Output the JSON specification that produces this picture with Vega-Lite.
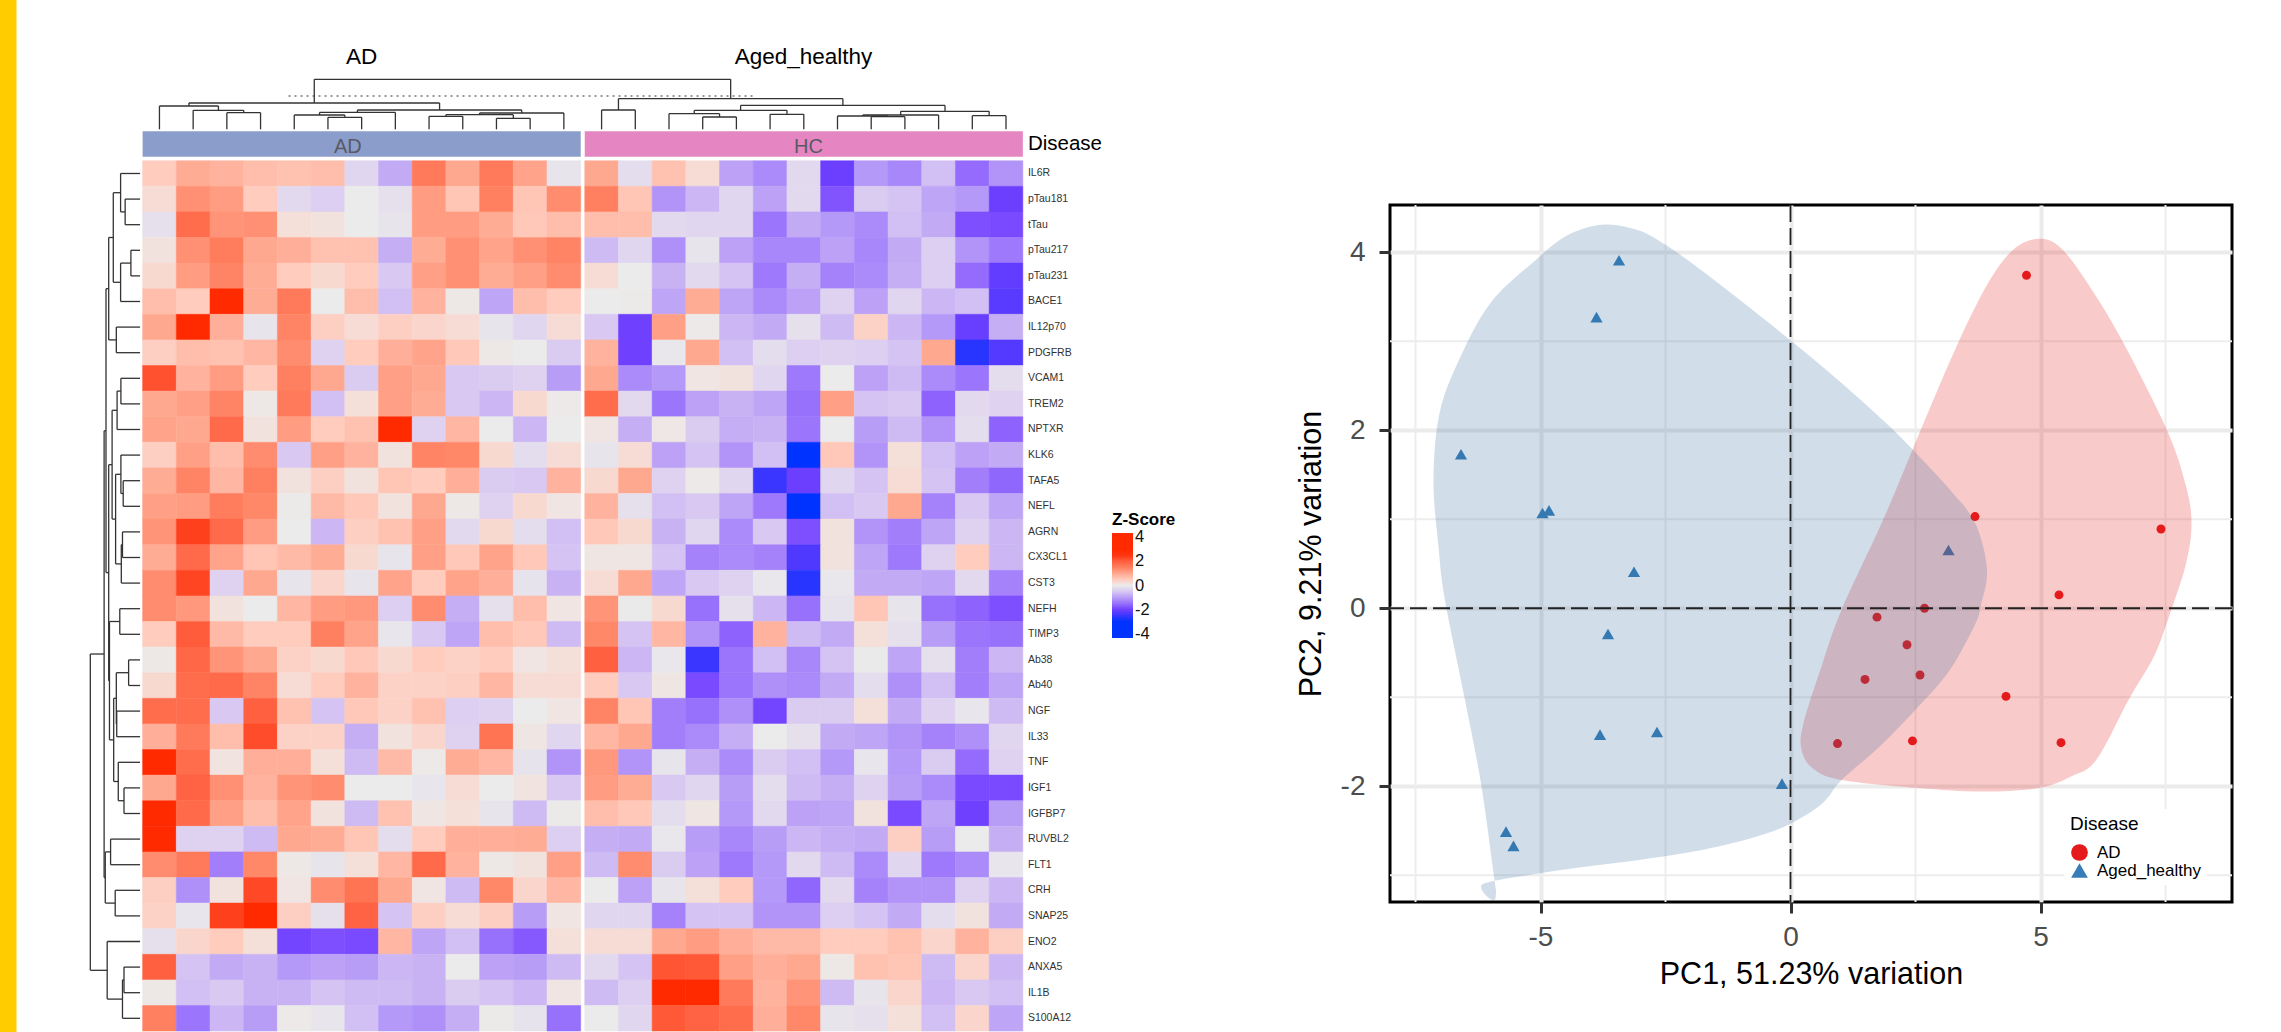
{"$schema":"https://vega.github.io/schema/vega-lite/v6.json","padding":0,"autosize":{"type":"pad"},"background":"white","bounds":"flush","spacing":90,
"config":{"font":"Liberation Sans","view":{"stroke":null}},
"datasets":{
"cells":[
{"row":0,"col":0,"z":0.5},{"row":0,"col":1,"z":0.95},{"row":0,"col":2,"z":0.85},{"row":0,"col":3,"z":0.7},{"row":0,"col":4,"z":0.65},{"row":0,"col":5,"z":0.7},{"row":0,"col":6,"z":-0.3},{"row":0,"col":7,"z":-0.85},{"row":0,"col":8,"z":1.6},{"row":0,"col":9,"z":1},{"row":0,"col":10,"z":1.6},{"row":0,"col":11,"z":1.05},{"row":0,"col":12,"z":-0.1},{"row":0,"col":13,"z":1},{"row":0,"col":14,"z":-0.2},{"row":0,"col":15,"z":0.65},{"row":0,"col":16,"z":0.25},{"row":0,"col":17,"z":-0.95},{"row":0,"col":18,"z":-1.2},{"row":0,"col":19,"z":-0.25},{"row":0,"col":20,"z":-2.05},{"row":0,"col":21,"z":-1.05},{"row":0,"col":22,"z":-1.25},{"row":0,"col":23,"z":-0.6},{"row":0,"col":24,"z":-1.55},{"row":0,"col":25,"z":-1.1},
{"row":1,"col":0,"z":0.25},{"row":1,"col":1,"z":1.3},{"row":1,"col":2,"z":1.15},{"row":1,"col":3,"z":0.5},{"row":1,"col":4,"z":-0.25},{"row":1,"col":5,"z":-0.4},{"row":1,"col":6,"z":0},{"row":1,"col":7,"z":-0.15},{"row":1,"col":8,"z":1.15},{"row":1,"col":9,"z":0.6},{"row":1,"col":10,"z":1.5},{"row":1,"col":11,"z":0.6},{"row":1,"col":12,"z":1.35},{"row":1,"col":13,"z":1.5},{"row":1,"col":14,"z":0.6},{"row":1,"col":15,"z":-1.1},{"row":1,"col":16,"z":-0.7},{"row":1,"col":17,"z":-0.3},{"row":1,"col":18,"z":-0.95},{"row":1,"col":19,"z":-0.25},{"row":1,"col":20,"z":-1.8},{"row":1,"col":21,"z":-0.45},{"row":1,"col":22,"z":-0.55},{"row":1,"col":23,"z":-0.9},{"row":1,"col":24,"z":-1.05},{"row":1,"col":25,"z":-2.05},
{"row":2,"col":0,"z":-0.15},{"row":2,"col":1,"z":1.8},{"row":2,"col":2,"z":1.25},{"row":2,"col":3,"z":1.3},{"row":2,"col":4,"z":0.2},{"row":2,"col":5,"z":0.15},{"row":2,"col":6,"z":0},{"row":2,"col":7,"z":-0.1},{"row":2,"col":8,"z":1.15},{"row":2,"col":9,"z":1.15},{"row":2,"col":10,"z":0.95},{"row":2,"col":11,"z":0.55},{"row":2,"col":12,"z":0.7},{"row":2,"col":13,"z":0.7},{"row":2,"col":14,"z":0.7},{"row":2,"col":15,"z":-0.25},{"row":2,"col":16,"z":-0.3},{"row":2,"col":17,"z":-0.3},{"row":2,"col":18,"z":-1.45},{"row":2,"col":19,"z":-0.85},{"row":2,"col":20,"z":-1.05},{"row":2,"col":21,"z":-1.2},{"row":2,"col":22,"z":-0.6},{"row":2,"col":23,"z":-0.85},{"row":2,"col":24,"z":-1.85},{"row":2,"col":25,"z":-1.9},
{"row":3,"col":0,"z":0.15},{"row":3,"col":1,"z":1.3},{"row":3,"col":2,"z":1.55},{"row":3,"col":3,"z":1},{"row":3,"col":4,"z":0.9},{"row":3,"col":5,"z":0.65},{"row":3,"col":6,"z":0.65},{"row":3,"col":7,"z":-0.8},{"row":3,"col":8,"z":0.95},{"row":3,"col":9,"z":1.3},{"row":3,"col":10,"z":1.05},{"row":3,"col":11,"z":1.3},{"row":3,"col":12,"z":1.45},{"row":3,"col":13,"z":-0.65},{"row":3,"col":14,"z":-0.3},{"row":3,"col":15,"z":-1.15},{"row":3,"col":16,"z":-0.1},{"row":3,"col":17,"z":-0.95},{"row":3,"col":18,"z":-1.25},{"row":3,"col":19,"z":-1.25},{"row":3,"col":20,"z":-0.95},{"row":3,"col":21,"z":-1.25},{"row":3,"col":22,"z":-0.85},{"row":3,"col":23,"z":-0.4},{"row":3,"col":24,"z":-1.1},{"row":3,"col":25,"z":-1.4},
{"row":4,"col":0,"z":0.3},{"row":4,"col":1,"z":1.15},{"row":4,"col":2,"z":1.45},{"row":4,"col":3,"z":0.95},{"row":4,"col":4,"z":0.5},{"row":4,"col":5,"z":0.3},{"row":4,"col":6,"z":0.5},{"row":4,"col":7,"z":-0.5},{"row":4,"col":8,"z":1.1},{"row":4,"col":9,"z":1.3},{"row":4,"col":10,"z":0.95},{"row":4,"col":11,"z":1.1},{"row":4,"col":12,"z":1.35},{"row":4,"col":13,"z":0.25},{"row":4,"col":14,"z":0},{"row":4,"col":15,"z":-0.75},{"row":4,"col":16,"z":-0.25},{"row":4,"col":17,"z":-0.55},{"row":4,"col":18,"z":-1.4},{"row":4,"col":19,"z":-0.8},{"row":4,"col":20,"z":-1.3},{"row":4,"col":21,"z":-1.2},{"row":4,"col":22,"z":-0.8},{"row":4,"col":23,"z":-0.4},{"row":4,"col":24,"z":-1.55},{"row":4,"col":25,"z":-2.15},
{"row":5,"col":0,"z":0.7},{"row":5,"col":1,"z":0.5},{"row":5,"col":2,"z":2.6},{"row":5,"col":3,"z":0.95},{"row":5,"col":4,"z":1.6},{"row":5,"col":5,"z":0},{"row":5,"col":6,"z":0.7},{"row":5,"col":7,"z":-0.6},{"row":5,"col":8,"z":0.85},{"row":5,"col":9,"z":0.05},{"row":5,"col":10,"z":-0.9},{"row":5,"col":11,"z":0.7},{"row":5,"col":12,"z":0.5},{"row":5,"col":13,"z":0},{"row":5,"col":14,"z":0.02},{"row":5,"col":15,"z":-0.9},{"row":5,"col":16,"z":0.95},{"row":5,"col":17,"z":-0.9},{"row":5,"col":18,"z":-1.2},{"row":5,"col":19,"z":-0.95},{"row":5,"col":20,"z":-0.35},{"row":5,"col":21,"z":-0.95},{"row":5,"col":22,"z":-0.3},{"row":5,"col":23,"z":-0.7},{"row":5,"col":24,"z":-0.6},{"row":5,"col":25,"z":-2.25},
{"row":6,"col":0,"z":1},{"row":6,"col":1,"z":2.6},{"row":6,"col":2,"z":0.9},{"row":6,"col":3,"z":-0.1},{"row":6,"col":4,"z":1.45},{"row":6,"col":5,"z":0.45},{"row":6,"col":6,"z":0.25},{"row":6,"col":7,"z":0.45},{"row":6,"col":8,"z":0.35},{"row":6,"col":9,"z":0.25},{"row":6,"col":10,"z":-0.1},{"row":6,"col":11,"z":-0.3},{"row":6,"col":12,"z":0.25},{"row":6,"col":13,"z":-0.5},{"row":6,"col":14,"z":-2},{"row":6,"col":15,"z":1.1},{"row":6,"col":16,"z":0.03},{"row":6,"col":17,"z":-0.7},{"row":6,"col":18,"z":-0.85},{"row":6,"col":19,"z":-0.15},{"row":6,"col":20,"z":-0.65},{"row":6,"col":21,"z":0.4},{"row":6,"col":22,"z":-0.7},{"row":6,"col":23,"z":-1.05},{"row":6,"col":24,"z":-2.1},{"row":6,"col":25,"z":-0.8},
{"row":7,"col":0,"z":0.45},{"row":7,"col":1,"z":0.7},{"row":7,"col":2,"z":0.65},{"row":7,"col":3,"z":0.8},{"row":7,"col":4,"z":1.35},{"row":7,"col":5,"z":-0.35},{"row":7,"col":6,"z":0.5},{"row":7,"col":7,"z":0.9},{"row":7,"col":8,"z":1.05},{"row":7,"col":9,"z":0.55},{"row":7,"col":10,"z":0.05},{"row":7,"col":11,"z":0},{"row":7,"col":12,"z":-0.45},{"row":7,"col":13,"z":0.85},{"row":7,"col":14,"z":-2},{"row":7,"col":15,"z":-0.05},{"row":7,"col":16,"z":1},{"row":7,"col":17,"z":-0.6},{"row":7,"col":18,"z":-0.2},{"row":7,"col":19,"z":-0.4},{"row":7,"col":20,"z":-0.35},{"row":7,"col":21,"z":-0.4},{"row":7,"col":22,"z":-0.55},{"row":7,"col":23,"z":1},{"row":7,"col":24,"z":-2.6},{"row":7,"col":25,"z":-2.3},
{"row":8,"col":0,"z":2.2},{"row":8,"col":1,"z":0.85},{"row":8,"col":2,"z":1.15},{"row":8,"col":3,"z":0.5},{"row":8,"col":4,"z":1.5},{"row":8,"col":5,"z":1},{"row":8,"col":6,"z":-0.45},{"row":8,"col":7,"z":1.1},{"row":8,"col":8,"z":1},{"row":8,"col":9,"z":-0.5},{"row":8,"col":10,"z":-0.45},{"row":8,"col":11,"z":-0.35},{"row":8,"col":12,"z":-1},{"row":8,"col":13,"z":1},{"row":8,"col":14,"z":-1.2},{"row":8,"col":15,"z":-1.05},{"row":8,"col":16,"z":0.1},{"row":8,"col":17,"z":0.15},{"row":8,"col":18,"z":-0.3},{"row":8,"col":19,"z":-1.4},{"row":8,"col":20,"z":0},{"row":8,"col":21,"z":-0.95},{"row":8,"col":22,"z":-0.65},{"row":8,"col":23,"z":-1.2},{"row":8,"col":24,"z":-1.45},{"row":8,"col":25,"z":-0.2},
{"row":9,"col":0,"z":1},{"row":9,"col":1,"z":1.1},{"row":9,"col":2,"z":1.45},{"row":9,"col":3,"z":0.05},{"row":9,"col":4,"z":1.6},{"row":9,"col":5,"z":-0.6},{"row":9,"col":6,"z":0.2},{"row":9,"col":7,"z":1.1},{"row":9,"col":8,"z":0.95},{"row":9,"col":9,"z":-0.5},{"row":9,"col":10,"z":-0.7},{"row":9,"col":11,"z":0.3},{"row":9,"col":12,"z":0.03},{"row":9,"col":13,"z":1.8},{"row":9,"col":14,"z":-0.25},{"row":9,"col":15,"z":-1.45},{"row":9,"col":16,"z":-0.95},{"row":9,"col":17,"z":-0.75},{"row":9,"col":18,"z":-0.9},{"row":9,"col":19,"z":-1.5},{"row":9,"col":20,"z":1.1},{"row":9,"col":21,"z":-0.55},{"row":9,"col":22,"z":-0.5},{"row":9,"col":23,"z":-1.65},{"row":9,"col":24,"z":-0.25},{"row":9,"col":25,"z":-0.35},
{"row":10,"col":0,"z":1.05},{"row":10,"col":1,"z":1},{"row":10,"col":2,"z":1.85},{"row":10,"col":3,"z":0.15},{"row":10,"col":4,"z":1.15},{"row":10,"col":5,"z":0.5},{"row":10,"col":6,"z":0.65},{"row":10,"col":7,"z":2.6},{"row":10,"col":8,"z":-0.35},{"row":10,"col":9,"z":0.8},{"row":10,"col":10,"z":0},{"row":10,"col":11,"z":-0.7},{"row":10,"col":12,"z":0},{"row":10,"col":13,"z":0.1},{"row":10,"col":14,"z":-0.8},{"row":10,"col":15,"z":0.07},{"row":10,"col":16,"z":-0.45},{"row":10,"col":17,"z":-0.8},{"row":10,"col":18,"z":-0.75},{"row":10,"col":19,"z":-1.45},{"row":10,"col":20,"z":0},{"row":10,"col":21,"z":-1},{"row":10,"col":22,"z":-0.65},{"row":10,"col":23,"z":-1.1},{"row":10,"col":24,"z":-0.2},{"row":10,"col":25,"z":-1.65},
{"row":11,"col":0,"z":0.45},{"row":11,"col":1,"z":1.1},{"row":11,"col":2,"z":0.7},{"row":11,"col":3,"z":1.35},{"row":11,"col":4,"z":-0.5},{"row":11,"col":5,"z":1.1},{"row":11,"col":6,"z":0.85},{"row":11,"col":7,"z":0.15},{"row":11,"col":8,"z":1.45},{"row":11,"col":9,"z":1.4},{"row":11,"col":10,"z":0.3},{"row":11,"col":11,"z":-0.2},{"row":11,"col":12,"z":0.25},{"row":11,"col":13,"z":-0.1},{"row":11,"col":14,"z":0.25},{"row":11,"col":15,"z":-0.95},{"row":11,"col":16,"z":-0.55},{"row":11,"col":17,"z":-1.1},{"row":11,"col":18,"z":-0.6},{"row":11,"col":19,"z":-2.7},{"row":11,"col":20,"z":0.55},{"row":11,"col":21,"z":-1.1},{"row":11,"col":22,"z":0.2},{"row":11,"col":23,"z":-0.6},{"row":11,"col":24,"z":-0.95},{"row":11,"col":25,"z":-0.85},
{"row":12,"col":0,"z":0.95},{"row":12,"col":1,"z":1.45},{"row":12,"col":2,"z":0.8},{"row":12,"col":3,"z":1.5},{"row":12,"col":4,"z":0.15},{"row":12,"col":5,"z":0.45},{"row":12,"col":6,"z":0.15},{"row":12,"col":7,"z":0.6},{"row":12,"col":8,"z":0.5},{"row":12,"col":9,"z":0.9},{"row":12,"col":10,"z":-0.45},{"row":12,"col":11,"z":-0.5},{"row":12,"col":12,"z":0.85},{"row":12,"col":13,"z":0.3},{"row":12,"col":14,"z":1},{"row":12,"col":15,"z":-0.35},{"row":12,"col":16,"z":0.03},{"row":12,"col":17,"z":-0.3},{"row":12,"col":18,"z":-2.5},{"row":12,"col":19,"z":-2.05},{"row":12,"col":20,"z":-0.3},{"row":12,"col":21,"z":-0.55},{"row":12,"col":22,"z":0.25},{"row":12,"col":23,"z":-0.55},{"row":12,"col":24,"z":-1.35},{"row":12,"col":25,"z":-1.6},
{"row":13,"col":0,"z":1.1},{"row":13,"col":1,"z":1.15},{"row":13,"col":2,"z":1.55},{"row":13,"col":3,"z":1.4},{"row":13,"col":4,"z":0.02},{"row":13,"col":5,"z":0.75},{"row":13,"col":6,"z":0.55},{"row":13,"col":7,"z":0.15},{"row":13,"col":8,"z":1},{"row":13,"col":9,"z":0.05},{"row":13,"col":10,"z":-0.35},{"row":13,"col":11,"z":0.3},{"row":13,"col":12,"z":0.1},{"row":13,"col":13,"z":0.85},{"row":13,"col":14,"z":-0.15},{"row":13,"col":15,"z":-0.6},{"row":13,"col":16,"z":-0.5},{"row":13,"col":17,"z":-0.9},{"row":13,"col":18,"z":-1.4},{"row":13,"col":19,"z":-2.7},{"row":13,"col":20,"z":-0.6},{"row":13,"col":21,"z":-0.5},{"row":13,"col":22,"z":1},{"row":13,"col":23,"z":-1.3},{"row":13,"col":24,"z":-0.5},{"row":13,"col":25,"z":-0.9},
{"row":14,"col":0,"z":1.25},{"row":14,"col":1,"z":2.4},{"row":14,"col":2,"z":1.85},{"row":14,"col":3,"z":1.15},{"row":14,"col":4,"z":0},{"row":14,"col":5,"z":-0.7},{"row":14,"col":6,"z":0.45},{"row":14,"col":7,"z":0.65},{"row":14,"col":8,"z":1.1},{"row":14,"col":9,"z":-0.25},{"row":14,"col":10,"z":0.3},{"row":14,"col":11,"z":-0.2},{"row":14,"col":12,"z":-0.6},{"row":14,"col":13,"z":0.55},{"row":14,"col":14,"z":0.3},{"row":14,"col":15,"z":-0.75},{"row":14,"col":16,"z":-0.3},{"row":14,"col":17,"z":-1.2},{"row":14,"col":18,"z":-0.5},{"row":14,"col":19,"z":-1.85},{"row":14,"col":20,"z":0.15},{"row":14,"col":21,"z":-1.1},{"row":14,"col":22,"z":-1.35},{"row":14,"col":23,"z":-0.9},{"row":14,"col":24,"z":-0.35},{"row":14,"col":25,"z":-0.7},
{"row":15,"col":0,"z":0.95},{"row":15,"col":1,"z":1.85},{"row":15,"col":2,"z":1.05},{"row":15,"col":3,"z":0.6},{"row":15,"col":4,"z":0.75},{"row":15,"col":5,"z":0.95},{"row":15,"col":6,"z":0.3},{"row":15,"col":7,"z":-0.1},{"row":15,"col":8,"z":1.1},{"row":15,"col":9,"z":0.55},{"row":15,"col":10,"z":1.05},{"row":15,"col":11,"z":0.55},{"row":15,"col":12,"z":-0.55},{"row":15,"col":13,"z":0.08},{"row":15,"col":14,"z":0.08},{"row":15,"col":15,"z":-0.55},{"row":15,"col":16,"z":-1.3},{"row":15,"col":17,"z":-1.2},{"row":15,"col":18,"z":-1.3},{"row":15,"col":19,"z":-2.35},{"row":15,"col":20,"z":0.15},{"row":15,"col":21,"z":-0.9},{"row":15,"col":22,"z":-1.4},{"row":15,"col":23,"z":-0.35},{"row":15,"col":24,"z":0.5},{"row":15,"col":25,"z":-0.7},
{"row":16,"col":0,"z":1.35},{"row":16,"col":1,"z":2.35},{"row":16,"col":2,"z":-0.35},{"row":16,"col":3,"z":1},{"row":16,"col":4,"z":-0.1},{"row":16,"col":5,"z":0.35},{"row":16,"col":6,"z":-0.1},{"row":16,"col":7,"z":1.05},{"row":16,"col":8,"z":0.5},{"row":16,"col":9,"z":1.05},{"row":16,"col":10,"z":0.9},{"row":16,"col":11,"z":-0.12},{"row":16,"col":12,"z":-0.75},{"row":16,"col":13,"z":0.25},{"row":16,"col":14,"z":1},{"row":16,"col":15,"z":-0.9},{"row":16,"col":16,"z":-0.5},{"row":16,"col":17,"z":-0.35},{"row":16,"col":18,"z":-0.05},{"row":16,"col":19,"z":-2.6},{"row":16,"col":20,"z":-0.05},{"row":16,"col":21,"z":-0.85},{"row":16,"col":22,"z":-0.85},{"row":16,"col":23,"z":-0.9},{"row":16,"col":24,"z":-0.25},{"row":16,"col":25,"z":-1.3},
{"row":17,"col":0,"z":1.35},{"row":17,"col":1,"z":1.2},{"row":17,"col":2,"z":0.15},{"row":17,"col":3,"z":0},{"row":17,"col":4,"z":0.8},{"row":17,"col":5,"z":1.15},{"row":17,"col":6,"z":1.2},{"row":17,"col":7,"z":-0.4},{"row":17,"col":8,"z":1.35},{"row":17,"col":9,"z":-0.8},{"row":17,"col":10,"z":-0.15},{"row":17,"col":11,"z":0.7},{"row":17,"col":12,"z":0.1},{"row":17,"col":13,"z":1.25},{"row":17,"col":14,"z":0.01},{"row":17,"col":15,"z":0.3},{"row":17,"col":16,"z":-1.5},{"row":17,"col":17,"z":-0.15},{"row":17,"col":18,"z":-0.7},{"row":17,"col":19,"z":-1.5},{"row":17,"col":20,"z":-0.12},{"row":17,"col":21,"z":0.6},{"row":17,"col":22,"z":-0.1},{"row":17,"col":23,"z":-1.5},{"row":17,"col":24,"z":-1.65},{"row":17,"col":25,"z":-1.85},
{"row":18,"col":0,"z":0.5},{"row":18,"col":1,"z":2.05},{"row":18,"col":2,"z":0.75},{"row":18,"col":3,"z":0.5},{"row":18,"col":4,"z":0.5},{"row":18,"col":5,"z":1.5},{"row":18,"col":6,"z":1.05},{"row":18,"col":7,"z":-0.08},{"row":18,"col":8,"z":-0.5},{"row":18,"col":9,"z":-0.9},{"row":18,"col":10,"z":0.7},{"row":18,"col":11,"z":0.55},{"row":18,"col":12,"z":-0.65},{"row":18,"col":13,"z":1.4},{"row":18,"col":14,"z":-0.55},{"row":18,"col":15,"z":0.8},{"row":18,"col":16,"z":-1.1},{"row":18,"col":17,"z":-1.65},{"row":18,"col":18,"z":0.85},{"row":18,"col":19,"z":-0.65},{"row":18,"col":20,"z":-0.85},{"row":18,"col":21,"z":0.2},{"row":18,"col":22,"z":-0.15},{"row":18,"col":23,"z":-1},{"row":18,"col":24,"z":-1.45},{"row":18,"col":25,"z":-1.5},
{"row":19,"col":0,"z":0.05},{"row":19,"col":1,"z":1.9},{"row":19,"col":2,"z":1.25},{"row":19,"col":3,"z":1},{"row":19,"col":4,"z":0.4},{"row":19,"col":5,"z":0.3},{"row":19,"col":6,"z":0.55},{"row":19,"col":7,"z":0.3},{"row":19,"col":8,"z":0.5},{"row":19,"col":9,"z":0.4},{"row":19,"col":10,"z":0.5},{"row":19,"col":11,"z":0.1},{"row":19,"col":12,"z":0.2},{"row":19,"col":13,"z":2},{"row":19,"col":14,"z":-0.7},{"row":19,"col":15,"z":-0.05},{"row":19,"col":16,"z":-2.5},{"row":19,"col":17,"z":-1.45},{"row":19,"col":18,"z":-0.6},{"row":19,"col":19,"z":-1.25},{"row":19,"col":20,"z":-0.55},{"row":19,"col":21,"z":0.01},{"row":19,"col":22,"z":-0.9},{"row":19,"col":23,"z":-0.15},{"row":19,"col":24,"z":-1.35},{"row":19,"col":25,"z":-0.7},
{"row":20,"col":0,"z":0.3},{"row":20,"col":1,"z":1.8},{"row":20,"col":2,"z":1.85},{"row":20,"col":3,"z":1.45},{"row":20,"col":4,"z":0.25},{"row":20,"col":5,"z":0.5},{"row":20,"col":6,"z":0.85},{"row":20,"col":7,"z":0.4},{"row":20,"col":8,"z":0.4},{"row":20,"col":9,"z":0.45},{"row":20,"col":10,"z":0.8},{"row":20,"col":11,"z":0.25},{"row":20,"col":12,"z":0.25},{"row":20,"col":13,"z":0.5},{"row":20,"col":14,"z":-0.5},{"row":20,"col":15,"z":0.08},{"row":20,"col":16,"z":-1.9},{"row":20,"col":17,"z":-1.45},{"row":20,"col":18,"z":-1.15},{"row":20,"col":19,"z":-1.2},{"row":20,"col":20,"z":-0.85},{"row":20,"col":21,"z":-0.2},{"row":20,"col":22,"z":-1.15},{"row":20,"col":23,"z":-0.6},{"row":20,"col":24,"z":-1.35},{"row":20,"col":25,"z":-0.9},
{"row":21,"col":0,"z":1.8},{"row":21,"col":1,"z":1.8},{"row":21,"col":2,"z":-0.5},{"row":21,"col":3,"z":2},{"row":21,"col":4,"z":0.65},{"row":21,"col":5,"z":-0.55},{"row":21,"col":6,"z":0.55},{"row":21,"col":7,"z":0.4},{"row":21,"col":8,"z":0.65},{"row":21,"col":9,"z":-0.4},{"row":21,"col":10,"z":-0.35},{"row":21,"col":11,"z":0},{"row":21,"col":12,"z":0.1},{"row":21,"col":13,"z":1.45},{"row":21,"col":14,"z":0.6},{"row":21,"col":15,"z":-1.35},{"row":21,"col":16,"z":-1.5},{"row":21,"col":17,"z":-1.15},{"row":21,"col":18,"z":-1.95},{"row":21,"col":19,"z":-0.45},{"row":21,"col":20,"z":-0.45},{"row":21,"col":21,"z":0.2},{"row":21,"col":22,"z":-0.85},{"row":21,"col":23,"z":-0.35},{"row":21,"col":24,"z":-0.08},{"row":21,"col":25,"z":-0.65},
{"row":22,"col":0,"z":0.9},{"row":22,"col":1,"z":1.6},{"row":22,"col":2,"z":0.7},{"row":22,"col":3,"z":2.25},{"row":22,"col":4,"z":0.4},{"row":22,"col":5,"z":0.4},{"row":22,"col":6,"z":-0.8},{"row":22,"col":7,"z":0.15},{"row":22,"col":8,"z":0.35},{"row":22,"col":9,"z":-0.35},{"row":22,"col":10,"z":1.7},{"row":22,"col":11,"z":0.08},{"row":22,"col":12,"z":-0.3},{"row":22,"col":13,"z":0.8},{"row":22,"col":14,"z":1},{"row":22,"col":15,"z":-1.35},{"row":22,"col":16,"z":-1.2},{"row":22,"col":17,"z":-0.8},{"row":22,"col":18,"z":0},{"row":22,"col":19,"z":-0.15},{"row":22,"col":20,"z":-0.85},{"row":22,"col":21,"z":-0.9},{"row":22,"col":22,"z":-1.1},{"row":22,"col":23,"z":-1.3},{"row":22,"col":24,"z":-1.15},{"row":22,"col":25,"z":-0.3},
{"row":23,"col":0,"z":2.6},{"row":23,"col":1,"z":1.8},{"row":23,"col":2,"z":0.12},{"row":23,"col":3,"z":0.9},{"row":23,"col":4,"z":0.9},{"row":23,"col":5,"z":0.2},{"row":23,"col":6,"z":-0.65},{"row":23,"col":7,"z":0.75},{"row":23,"col":8,"z":0.03},{"row":23,"col":9,"z":0.95},{"row":23,"col":10,"z":0.8},{"row":23,"col":11,"z":-0.12},{"row":23,"col":12,"z":-1.1},{"row":23,"col":13,"z":1.2},{"row":23,"col":14,"z":-1.1},{"row":23,"col":15,"z":-0.1},{"row":23,"col":16,"z":-0.8},{"row":23,"col":17,"z":-1.2},{"row":23,"col":18,"z":-0.45},{"row":23,"col":19,"z":-0.6},{"row":23,"col":20,"z":-1.05},{"row":23,"col":21,"z":-0.08},{"row":23,"col":22,"z":-1.05},{"row":23,"col":23,"z":-0.45},{"row":23,"col":24,"z":-1.55},{"row":23,"col":25,"z":-0.35},
{"row":24,"col":0,"z":1},{"row":24,"col":1,"z":1.95},{"row":24,"col":2,"z":1.3},{"row":24,"col":3,"z":0.85},{"row":24,"col":4,"z":1.25},{"row":24,"col":5,"z":1.35},{"row":24,"col":6,"z":0},{"row":24,"col":7,"z":0},{"row":24,"col":8,"z":-0.08},{"row":24,"col":9,"z":0.25},{"row":24,"col":10,"z":0},{"row":24,"col":11,"z":0.12},{"row":24,"col":12,"z":-0.5},{"row":24,"col":13,"z":1.15},{"row":24,"col":14,"z":0.95},{"row":24,"col":15,"z":-0.5},{"row":24,"col":16,"z":-0.3},{"row":24,"col":17,"z":-1},{"row":24,"col":18,"z":-0.2},{"row":24,"col":19,"z":-0.65},{"row":24,"col":20,"z":-0.8},{"row":24,"col":21,"z":-0.35},{"row":24,"col":22,"z":-1},{"row":24,"col":23,"z":-1.2},{"row":24,"col":24,"z":-1.9},{"row":24,"col":25,"z":-1.9},
{"row":25,"col":0,"z":2.6},{"row":25,"col":1,"z":1.85},{"row":25,"col":2,"z":1.1},{"row":25,"col":3,"z":0.7},{"row":25,"col":4,"z":1.05},{"row":25,"col":5,"z":0.15},{"row":25,"col":6,"z":-0.65},{"row":25,"col":7,"z":0.65},{"row":25,"col":8,"z":0.08},{"row":25,"col":9,"z":0.2},{"row":25,"col":10,"z":-0.1},{"row":25,"col":11,"z":-0.65},{"row":25,"col":12,"z":0.02},{"row":25,"col":13,"z":0.7},{"row":25,"col":14,"z":0.55},{"row":25,"col":15,"z":-0.2},{"row":25,"col":16,"z":0.08},{"row":25,"col":17,"z":-1.05},{"row":25,"col":18,"z":-0.25},{"row":25,"col":19,"z":-0.95},{"row":25,"col":20,"z":-0.9},{"row":25,"col":21,"z":0.15},{"row":25,"col":22,"z":-1.9},{"row":25,"col":23,"z":-0.9},{"row":25,"col":24,"z":-2},{"row":25,"col":25,"z":-1},
{"row":26,"col":0,"z":2.6},{"row":26,"col":1,"z":-0.35},{"row":26,"col":2,"z":-0.35},{"row":26,"col":3,"z":-0.65},{"row":26,"col":4,"z":1},{"row":26,"col":5,"z":0.95},{"row":26,"col":6,"z":0.6},{"row":26,"col":7,"z":-0.2},{"row":26,"col":8,"z":0.5},{"row":26,"col":9,"z":0.9},{"row":26,"col":10,"z":0.9},{"row":26,"col":11,"z":0.95},{"row":26,"col":12,"z":-0.4},{"row":26,"col":13,"z":-0.8},{"row":26,"col":14,"z":-0.85},{"row":26,"col":15,"z":-0.05},{"row":26,"col":16,"z":-1},{"row":26,"col":17,"z":-1.25},{"row":26,"col":18,"z":-1},{"row":26,"col":19,"z":-0.7},{"row":26,"col":20,"z":-0.8},{"row":26,"col":21,"z":-0.85},{"row":26,"col":22,"z":0.45},{"row":26,"col":23,"z":-1},{"row":26,"col":24,"z":0},{"row":26,"col":25,"z":-0.8},
{"row":27,"col":0,"z":1.35},{"row":27,"col":1,"z":1.6},{"row":27,"col":2,"z":-1.35},{"row":27,"col":3,"z":1.4},{"row":27,"col":4,"z":0.05},{"row":27,"col":5,"z":-0.1},{"row":27,"col":6,"z":0.2},{"row":27,"col":7,"z":0.8},{"row":27,"col":8,"z":1.85},{"row":27,"col":9,"z":0.85},{"row":27,"col":10,"z":0.05},{"row":27,"col":11,"z":0.15},{"row":27,"col":12,"z":1.1},{"row":27,"col":13,"z":-0.65},{"row":27,"col":14,"z":1.35},{"row":27,"col":15,"z":-0.45},{"row":27,"col":16,"z":-0.95},{"row":27,"col":17,"z":-1.4},{"row":27,"col":18,"z":-1.05},{"row":27,"col":19,"z":-0.25},{"row":27,"col":20,"z":-0.65},{"row":27,"col":21,"z":-1.2},{"row":27,"col":22,"z":-0.3},{"row":27,"col":23,"z":-1.4},{"row":27,"col":24,"z":-1.2},{"row":27,"col":25,"z":-0.08},
{"row":28,"col":0,"z":0.45},{"row":28,"col":1,"z":-1.15},{"row":28,"col":2,"z":0.15},{"row":28,"col":3,"z":2.3},{"row":28,"col":4,"z":0.1},{"row":28,"col":5,"z":1.35},{"row":28,"col":6,"z":1.7},{"row":28,"col":7,"z":1},{"row":28,"col":8,"z":0.1},{"row":28,"col":9,"z":-0.65},{"row":28,"col":10,"z":1.4},{"row":28,"col":11,"z":0.35},{"row":28,"col":12,"z":0.8},{"row":28,"col":13,"z":0},{"row":28,"col":14,"z":-0.95},{"row":28,"col":15,"z":-0.1},{"row":28,"col":16,"z":0.2},{"row":28,"col":17,"z":0.5},{"row":28,"col":18,"z":-1.05},{"row":28,"col":19,"z":-1.6},{"row":28,"col":20,"z":-0.25},{"row":28,"col":21,"z":-1.3},{"row":28,"col":22,"z":-1.1},{"row":28,"col":23,"z":-1.1},{"row":28,"col":24,"z":-0.35},{"row":28,"col":25,"z":-0.7},
{"row":29,"col":0,"z":0.4},{"row":29,"col":1,"z":-0.08},{"row":29,"col":2,"z":2.4},{"row":29,"col":3,"z":2.6},{"row":29,"col":4,"z":0.45},{"row":29,"col":5,"z":-0.15},{"row":29,"col":6,"z":1.95},{"row":29,"col":7,"z":-0.55},{"row":29,"col":8,"z":0.45},{"row":29,"col":9,"z":0.25},{"row":29,"col":10,"z":0.45},{"row":29,"col":11,"z":-1},{"row":29,"col":12,"z":0.1},{"row":29,"col":13,"z":-0.3},{"row":29,"col":14,"z":-0.3},{"row":29,"col":15,"z":-1.3},{"row":29,"col":16,"z":-0.55},{"row":29,"col":17,"z":-0.55},{"row":29,"col":18,"z":-1.1},{"row":29,"col":19,"z":-1.1},{"row":29,"col":20,"z":-0.4},{"row":29,"col":21,"z":-0.55},{"row":29,"col":22,"z":-0.85},{"row":29,"col":23,"z":-0.2},{"row":29,"col":24,"z":0.15},{"row":29,"col":25,"z":-0.85},
{"row":30,"col":0,"z":-0.15},{"row":30,"col":1,"z":0.35},{"row":30,"col":2,"z":0.5},{"row":30,"col":3,"z":0.2},{"row":30,"col":4,"z":-1.95},{"row":30,"col":5,"z":-1.85},{"row":30,"col":6,"z":-1.9},{"row":30,"col":7,"z":0.8},{"row":30,"col":8,"z":-0.9},{"row":30,"col":9,"z":-0.6},{"row":30,"col":10,"z":-1.5},{"row":30,"col":11,"z":-1.75},{"row":30,"col":12,"z":0.2},{"row":30,"col":13,"z":0.25},{"row":30,"col":14,"z":0.25},{"row":30,"col":15,"z":1},{"row":30,"col":16,"z":1.15},{"row":30,"col":17,"z":0.9},{"row":30,"col":18,"z":0.75},{"row":30,"col":19,"z":0.75},{"row":30,"col":20,"z":0.5},{"row":30,"col":21,"z":0.5},{"row":30,"col":22,"z":0.65},{"row":30,"col":23,"z":0.35},{"row":30,"col":24,"z":0.85},{"row":30,"col":25,"z":0.45},
{"row":31,"col":0,"z":2},{"row":31,"col":1,"z":-0.55},{"row":31,"col":2,"z":-0.85},{"row":31,"col":3,"z":-0.75},{"row":31,"col":4,"z":-1.05},{"row":31,"col":5,"z":-0.95},{"row":31,"col":6,"z":-1},{"row":31,"col":7,"z":-0.7},{"row":31,"col":8,"z":-0.75},{"row":31,"col":9,"z":0},{"row":31,"col":10,"z":-0.95},{"row":31,"col":11,"z":-1},{"row":31,"col":12,"z":-0.65},{"row":31,"col":13,"z":-0.25},{"row":31,"col":14,"z":-0.55},{"row":31,"col":15,"z":2.15},{"row":31,"col":16,"z":2.1},{"row":31,"col":17,"z":1.1},{"row":31,"col":18,"z":0.9},{"row":31,"col":19,"z":1},{"row":31,"col":20,"z":0.05},{"row":31,"col":21,"z":0.65},{"row":31,"col":22,"z":0.6},{"row":31,"col":23,"z":-0.65},{"row":31,"col":24,"z":0.35},{"row":31,"col":25,"z":-0.7},
{"row":32,"col":0,"z":0.05},{"row":32,"col":1,"z":-0.6},{"row":32,"col":2,"z":-0.5},{"row":32,"col":3,"z":-0.75},{"row":32,"col":4,"z":-0.75},{"row":32,"col":5,"z":-0.55},{"row":32,"col":6,"z":-0.65},{"row":32,"col":7,"z":-0.65},{"row":32,"col":8,"z":-0.75},{"row":32,"col":9,"z":-0.45},{"row":32,"col":10,"z":-0.55},{"row":32,"col":11,"z":-0.7},{"row":32,"col":12,"z":0.1},{"row":32,"col":13,"z":-0.65},{"row":32,"col":14,"z":-0.4},{"row":32,"col":15,"z":2.6},{"row":32,"col":16,"z":2.6},{"row":32,"col":17,"z":1.6},{"row":32,"col":18,"z":0.85},{"row":32,"col":19,"z":1.25},{"row":32,"col":20,"z":-0.65},{"row":32,"col":21,"z":-0.1},{"row":32,"col":22,"z":0.35},{"row":32,"col":23,"z":-0.7},{"row":32,"col":24,"z":-0.5},{"row":32,"col":25,"z":-0.6},
{"row":33,"col":0,"z":1.5},{"row":33,"col":1,"z":-1.45},{"row":33,"col":2,"z":-0.7},{"row":33,"col":3,"z":-1},{"row":33,"col":4,"z":0.03},{"row":33,"col":5,"z":-0.08},{"row":33,"col":6,"z":-0.6},{"row":33,"col":7,"z":-1.05},{"row":33,"col":8,"z":-1.15},{"row":33,"col":9,"z":-0.8},{"row":33,"col":10,"z":0.02},{"row":33,"col":11,"z":-0.12},{"row":33,"col":12,"z":-1.5},{"row":33,"col":13,"z":0},{"row":33,"col":14,"z":-0.3},{"row":33,"col":15,"z":2.1},{"row":33,"col":16,"z":1.95},{"row":33,"col":17,"z":1.8},{"row":33,"col":18,"z":0.9},{"row":33,"col":19,"z":1.4},{"row":33,"col":20,"z":-0.1},{"row":33,"col":21,"z":-0.15},{"row":33,"col":22,"z":0.2},{"row":33,"col":23,"z":-0.6},{"row":33,"col":24,"z":0.35},{"row":33,"col":25,"z":-0.9}
],
"genes":[{"gene":"IL6R","row":0},{"gene":"pTau181","row":1},{"gene":"tTau","row":2},{"gene":"pTau217","row":3},{"gene":"pTau231","row":4},{"gene":"BACE1","row":5},{"gene":"IL12p70","row":6},{"gene":"PDGFRB","row":7},{"gene":"VCAM1","row":8},{"gene":"TREM2","row":9},{"gene":"NPTXR","row":10},{"gene":"KLK6","row":11},{"gene":"TAFA5","row":12},{"gene":"NEFL","row":13},{"gene":"AGRN","row":14},{"gene":"CX3CL1","row":15},{"gene":"CST3","row":16},{"gene":"NEFH","row":17},{"gene":"TIMP3","row":18},{"gene":"Ab38","row":19},{"gene":"Ab40","row":20},{"gene":"NGF","row":21},{"gene":"IL33","row":22},{"gene":"TNF","row":23},{"gene":"IGF1","row":24},{"gene":"IGFBP7","row":25},{"gene":"RUVBL2","row":26},{"gene":"FLT1","row":27},{"gene":"CRH","row":28},{"gene":"SNAP25","row":29},{"gene":"ENO2","row":30},{"gene":"ANXA5","row":31},{"gene":"IL1B","row":32},{"gene":"S100A12","row":33}],
"topTree":[
{"a":2.5,"b":3.5,"ha":-1.225,"hb":-1.225,"h":-1.876},{"a":1.5,"b":3,"ha":-1.225,"hb":-1.876,"h":-1.967},{"a":0.5,"b":2.25,"ha":-1.225,"hb":-1.967,"h":-2.137},
{"a":5.5,"b":6.5,"ha":-1.225,"hb":-1.225,"h":-1.694},{"a":4.5,"b":6,"ha":-1.225,"hb":-1.694,"h":-1.785},{"a":5.25,"b":7.5,"ha":-1.785,"hb":-1.225,"h":-1.889},
{"a":8.5,"b":9.5,"ha":-1.225,"hb":-1.225,"h":-1.733},{"a":10.5,"b":11.5,"ha":-1.225,"hb":-1.225,"h":-1.655},{"a":9,"b":11,"ha":-1.733,"hb":-1.655,"h":-1.798},{"a":10,"b":12.5,"ha":-1.798,"hb":-1.225,"h":-1.863},
{"a":6.375,"b":11.25,"ha":-1.889,"hb":-1.863,"h":-1.98},{"a":1.375,"b":8.8125,"ha":-2.137,"hb":-1.98,"h":-2.254},
{"a":13.62,"b":14.62,"ha":-1.225,"hb":-1.225,"h":-1.98},{"a":16.62,"b":17.62,"ha":-1.225,"hb":-1.225,"h":-1.707},{"a":15.62,"b":17.12,"ha":-1.225,"hb":-1.707,"h":-1.837},{"a":18.62,"b":19.62,"ha":-1.225,"hb":-1.225,"h":-1.811},{"a":16.37,"b":19.12,"ha":-1.837,"hb":-1.811,"h":-1.967},
{"a":21.62,"b":22.62,"ha":-1.225,"hb":-1.225,"h":-1.72},{"a":20.62,"b":22.12,"ha":-1.225,"hb":-1.72,"h":-1.746},{"a":21.37,"b":23.62,"ha":-1.746,"hb":-1.225,"h":-1.785},{"a":24.62,"b":25.62,"ha":-1.225,"hb":-1.225,"h":-1.759},{"a":22.495,"b":25.12,"ha":-1.785,"hb":-1.759,"h":-1.928},
{"a":17.745,"b":23.81,"ha":-1.967,"hb":-1.928,"h":-2.163},{"a":14.12,"b":20.78,"ha":-1.98,"hb":-2.163,"h":-2.423},
{"a":5.094,"b":17.45,"ha":-2.254,"hb":-2.423,"h":-3.178}],
"leftTree":[
{"a":1.5,"b":2.5,"ha":-0.075,"hb":-0.075,"h":-0.518},{"a":0.5,"b":2,"ha":-0.075,"hb":-0.518,"h":-0.653},{"a":3.5,"b":4.5,"ha":-0.075,"hb":-0.075,"h":-0.347},{"a":4,"b":5.5,"ha":-0.347,"hb":-0.075,"h":-0.653},{"a":1.25,"b":4.75,"ha":-0.653,"hb":-0.653,"h":-0.87},{"a":6.5,"b":7.5,"ha":-0.075,"hb":-0.075,"h":-0.78},{"a":3,"b":7,"ha":-0.87,"hb":-0.78,"h":-1.006},
{"a":8.5,"b":9.5,"ha":-0.075,"hb":-0.075,"h":-0.644},{"a":9,"b":10.5,"ha":-0.644,"hb":-0.075,"h":-0.757},{"a":12.5,"b":13.5,"ha":-0.075,"hb":-0.075,"h":-0.576},{"a":11.5,"b":13,"ha":-0.075,"hb":-0.576,"h":-0.644},{"a":14.5,"b":15.5,"ha":-0.075,"hb":-0.075,"h":-0.597},{"a":15,"b":16.5,"ha":-0.597,"hb":-0.075,"h":-0.632},{"a":12.25,"b":15.75,"ha":-0.644,"hb":-0.632,"h":-0.801},{"a":9.75,"b":14,"ha":-0.757,"hb":-0.801,"h":-0.905},
{"a":17.5,"b":18.5,"ha":-0.075,"hb":-0.075,"h":-0.677},{"a":19.5,"b":20.5,"ha":-0.075,"hb":-0.075,"h":-0.415},{"a":21.5,"b":22.5,"ha":-0.075,"hb":-0.075,"h":-0.768},{"a":20,"b":22,"ha":-0.415,"hb":-0.768,"h":-0.78},{"a":24.5,"b":25.5,"ha":-0.075,"hb":-0.075,"h":-0.552},{"a":23.5,"b":25,"ha":-0.075,"hb":-0.552,"h":-0.722},{"a":21,"b":24.25,"ha":-0.78,"hb":-0.722,"h":-0.858},{"a":18,"b":22.625,"ha":-0.677,"hb":-0.858,"h":-0.983},{"a":11.875,"b":20.3125,"ha":-0.905,"hb":-0.983,"h":-1.006},{"a":5,"b":16.09,"ha":-1.006,"hb":-1.006,"h":-1.086},
{"a":26.5,"b":27.5,"ha":-0.075,"hb":-0.075,"h":-0.95},{"a":28.5,"b":29.5,"ha":-0.075,"hb":-0.075,"h":-0.813},{"a":27,"b":29,"ha":-0.95,"hb":-0.813,"h":-1.108},{"a":10.55,"b":28,"ha":-1.086,"hb":-1.108,"h":-1.142},
{"a":31.5,"b":32.5,"ha":-0.075,"hb":-0.075,"h":-0.552},{"a":32,"b":33.5,"ha":-0.552,"hb":-0.075,"h":-0.597},{"a":30.5,"b":32.75,"ha":-0.075,"hb":-0.597,"h":-1.051},{"a":19.27,"b":31.625,"ha":-1.142,"hb":-1.051,"h":-1.552}],
"points":[
{"PC1":-3.43,"PC2":3.91,"Disease":"Aged_healthy"},{"PC1":-3.88,"PC2":3.27,"Disease":"Aged_healthy"},{"PC1":-6.59,"PC2":1.73,"Disease":"Aged_healthy"},{"PC1":-4.96,"PC2":1.07,"Disease":"Aged_healthy"},{"PC1":-4.83,"PC2":1.1,"Disease":"Aged_healthy"},{"PC1":-3.13,"PC2":0.41,"Disease":"Aged_healthy"},{"PC1":3.16,"PC2":0.655,"Disease":"Aged_healthy"},{"PC1":-3.65,"PC2":-0.29,"Disease":"Aged_healthy"},{"PC1":-3.81,"PC2":-1.42,"Disease":"Aged_healthy"},{"PC1":-2.67,"PC2":-1.39,"Disease":"Aged_healthy"},{"PC1":-0.17,"PC2":-1.97,"Disease":"Aged_healthy"},{"PC1":-5.69,"PC2":-2.51,"Disease":"Aged_healthy"},{"PC1":-5.54,"PC2":-2.67,"Disease":"Aged_healthy"},
{"PC1":4.72,"PC2":3.74,"Disease":"AD"},{"PC1":3.69,"PC2":1.03,"Disease":"AD"},{"PC1":7.41,"PC2":0.89,"Disease":"AD"},{"PC1":5.37,"PC2":0.15,"Disease":"AD"},{"PC1":2.68,"PC2":0,"Disease":"AD"},{"PC1":1.73,"PC2":-0.1,"Disease":"AD"},{"PC1":2.33,"PC2":-0.41,"Disease":"AD"},{"PC1":2.59,"PC2":-0.75,"Disease":"AD"},{"PC1":1.49,"PC2":-0.8,"Disease":"AD"},{"PC1":4.31,"PC2":-0.99,"Disease":"AD"},{"PC1":2.44,"PC2":-1.49,"Disease":"AD"},{"PC1":0.94,"PC2":-1.52,"Disease":"AD"},{"PC1":5.41,"PC2":-1.51,"Disease":"AD"}],
"hullBlue":[{"i":0,"PC1":-3.74,"PC2":4.31},{"i":1,"PC1":-3.06,"PC2":4.25},{"i":2,"PC1":-2.49,"PC2":4.08},{"i":3,"PC1":-1.79,"PC2":3.8},{"i":4,"PC1":-0.89,"PC2":3.41},{"i":5,"PC1":0,"PC2":3.01},{"i":6,"PC1":1.02,"PC2":2.53},{"i":7,"PC1":1.91,"PC2":2.08},{"i":8,"PC1":2.55,"PC2":1.72},{"i":9,"PC1":3.19,"PC2":1.33},{"i":10,"PC1":3.7,"PC2":0.95},{"i":11,"PC1":3.93,"PC2":0.43},{"i":12,"PC1":3.8,"PC2":0.02},{"i":13,"PC1":3.7,"PC2":-0.17},{"i":14,"PC1":3.19,"PC2":-0.69},{"i":15,"PC1":2.55,"PC2":-1.11},{"i":16,"PC1":1.79,"PC2":-1.55},{"i":17,"PC1":1.02,"PC2":-1.93},{"i":18,"PC1":0.64,"PC2":-2.19},{"i":19,"PC1":0,"PC2":-2.42},{"i":20,"PC1":-0.77,"PC2":-2.58},{"i":21,"PC1":-1.91,"PC2":-2.73},{"i":22,"PC1":-3.06,"PC2":-2.83},{"i":23,"PC1":-4.34,"PC2":-2.92},{"i":24,"PC1":-5.48,"PC2":-3.02},{"i":25,"PC1":-6.06,"PC2":-3.08},{"i":26,"PC1":-6.19,"PC2":-3.13},{"i":27,"PC1":-6.1,"PC2":-3.22},{"i":28,"PC1":-5.93,"PC2":-3.28},{"i":29,"PC1":-5.89,"PC2":-3.2},{"i":30,"PC1":-5.92,"PC2":-3.05},{"i":31,"PC1":-6.19,"PC2":-1.97},{"i":32,"PC1":-6.51,"PC2":-1.03},{"i":33,"PC1":-6.91,"PC2":0.09},{"i":34,"PC1":-7.04,"PC2":0.69},{"i":35,"PC1":-7.14,"PC2":1.44},{"i":36,"PC1":-7.02,"PC2":2.19},{"i":37,"PC1":-6.63,"PC2":2.79},{"i":38,"PC1":-6,"PC2":3.43},{"i":39,"PC1":-5.1,"PC2":3.91},{"i":40,"PC1":-4.46,"PC2":4.19}],
"hullRed":[{"i":0,"PC1":4.97,"PC2":4.15},{"i":1,"PC1":5.42,"PC2":4.04},{"i":2,"PC1":5.99,"PC2":3.61},{"i":3,"PC1":6.63,"PC2":3.01},{"i":4,"PC1":7.53,"PC2":2},{"i":5,"PC1":7.91,"PC2":1.37},{"i":6,"PC1":8.02,"PC2":0.95},{"i":7,"PC1":7.91,"PC2":0.5},{"i":8,"PC1":7.59,"PC2":-0.06},{"i":9,"PC1":7.27,"PC2":-0.54},{"i":10,"PC1":6.76,"PC2":-1.03},{"i":11,"PC1":6.12,"PC2":-1.7},{"i":12,"PC1":5.61,"PC2":-1.89},{"i":13,"PC1":4.97,"PC2":-2.02},{"i":14,"PC1":3.83,"PC2":-2.06},{"i":15,"PC1":2.55,"PC2":-2.02},{"i":16,"PC1":1.02,"PC2":-1.93},{"i":17,"PC1":0.45,"PC2":-1.8},{"i":18,"PC1":0.22,"PC2":-1.59},{"i":19,"PC1":0.26,"PC2":-1.29},{"i":20,"PC1":0.64,"PC2":-0.62},{"i":21,"PC1":1.02,"PC2":-0.02},{"i":22,"PC1":1.85,"PC2":0.99},{"i":23,"PC1":2.55,"PC2":1.93},{"i":24,"PC1":3.32,"PC2":2.94},{"i":25,"PC1":3.95,"PC2":3.65},{"i":26,"PC1":4.46,"PC2":4.03}]
},
"hconcat":[
{"width":1300,"height":1032,
"layer":[
{"data":{"values":[{"from":-4.2315,"to":-3.742}]},"mark":{"type":"rect","color":"#ffcc00"},"encoding":{"x":{"field":"from","type":"quantitative","axis":null,"scale":{"domain":[-4.2315,34.344],"nice":false,"zero":false}},"x2":{"field":"to"}}},
{"data":{"name":"cells"},"transform":[{"calculate":"datum.col+(datum.col>=13?0.12:0)","as":"x0"},{"calculate":"datum.x0+1","as":"x1"},{"calculate":"datum.row+1","as":"y1"}],
"mark":{"type":"rect","strokeWidth":0.5},
"encoding":{"x":{"field":"x0","type":"quantitative","axis":null},"x2":{"field":"x1"},"y":{"field":"row","type":"quantitative","axis":null,"scale":{"domain":[-6.277,34.035],"nice":false,"zero":false,"reverse":true}},"y2":{"field":"y1"},
"stroke":{"field":"z","type":"quantitative","legend":null,"scale":{"domain":[-4.38,-2.7,-2,-1,-0.5,0,0.5,1,1.5,2,2.6,4.38],"range":["#0033ff","#0033ff","#7040ff","#b89df7","#d8c8f2","#ebebeb","#ffccbe","#ffa890","#ff8060","#ff6040","#ff2a00","#ff2a00"]}},
"fill":{"field":"z","type":"quantitative","scale":{"domain":[-4.37,-2.7,-2,-1,-0.5,0,0.5,1,1.5,2,2.6,4.37],"range":["#0033ff","#0033ff","#7040ff","#b89df7","#d8c8f2","#ebebeb","#ffccbe","#ffa890","#ff8060","#ff6040","#ff2a00","#ff2a00"]},
"legend":{"type":"gradient","orient":"none","legendX":1112,"legendY":512,"title":"Z-Score","titleFontSize":17,"titleFontWeight":"bold","titleColor":"black","titlePadding":4,"gradientLength":105,"gradientThickness":21,"labelFontSize":16.5,"labelColor":"#111","tickCount":4,"labelExpr":"''+datum.value","gradientStrokeWidth":0,"labelOverlap":false,"padding":0}}}},
{"data":{"values":[{"group":"AD","c0":0,"c1":13},{"group":"HC","c0":13.12,"c1":26.12}]},"mark":{"type":"rect"},"encoding":{"x":{"field":"c0","type":"quantitative","axis":null},"x2":{"field":"c1"},"y":{"datum":-1.148,"type":"quantitative","axis":null},"y2":{"datum":-0.156},"fill":{"field":"group","type":"nominal","legend":null,"scale":{"domain":["AD","HC"],"range":["#8b9dca","#e585c1"]}}}},
{"data":{"values":[{"group":"AD","c":6.09},{"group":"HC","c":19.76}]},"mark":{"type":"text","fontSize":20,"color":"#5a5a66","baseline":"middle","align":"center"},"encoding":{"x":{"field":"c","type":"quantitative","axis":null},"y":{"datum":-0.535,"type":"quantitative","axis":null},"text":{"field":"group"}}},
{"data":{"values":[{"t":"AD","c":6.5},{"t":"Aged_healthy","c":19.61}]},"mark":{"type":"text","fontSize":22.5,"color":"black","baseline":"middle","align":"center"},"encoding":{"x":{"field":"c","type":"quantitative","axis":null},"y":{"datum":-4.04,"type":"quantitative","axis":null},"text":{"field":"t"}}},
{"data":{"values":[{"t":"Disease","c":26.27}]},"mark":{"type":"text","fontSize":20.5,"color":"black","baseline":"middle","align":"left"},"encoding":{"x":{"field":"c","type":"quantitative","axis":null},"y":{"datum":-0.65,"type":"quantitative","axis":null},"text":{"field":"t"}}},
{"data":{"name":"genes"},"transform":[{"calculate":"datum.row+0.5","as":"yc"}],"mark":{"type":"text","fontSize":10.5,"color":"#333333","baseline":"middle","align":"left"},"encoding":{"x":{"datum":26.27,"type":"quantitative","axis":null},"y":{"field":"yc","type":"quantitative","axis":null},"text":{"field":"gene"}}},
{"data":{"values":[{"a":4.33,"b":18.2}]},"mark":{"type":"rule","color":"#777777","strokeWidth":1.5,"strokeDash":[2,4]},"encoding":{"x":{"field":"a","type":"quantitative","axis":null},"x2":{"field":"b"},"y":{"datum":-2.527,"type":"quantitative","axis":null}}},
{"data":{"name":"topTree"},"mark":{"type":"rule","color":"#333333","strokeWidth":1.3},"encoding":{"x":{"field":"a","type":"quantitative","axis":null},"x2":{"field":"b"},"y":{"field":"h","type":"quantitative","axis":null}}},
{"data":{"name":"topTree"},"mark":{"type":"rule","color":"#333333","strokeWidth":1.3},"encoding":{"x":{"field":"a","type":"quantitative","axis":null},"y":{"field":"ha","type":"quantitative","axis":null},"y2":{"field":"h"}}},
{"data":{"name":"topTree"},"mark":{"type":"rule","color":"#333333","strokeWidth":1.3},"encoding":{"x":{"field":"b","type":"quantitative","axis":null},"y":{"field":"hb","type":"quantitative","axis":null},"y2":{"field":"h"}}},
{"data":{"name":"leftTree"},"mark":{"type":"rule","color":"#333333","strokeWidth":1.3},"encoding":{"y":{"field":"a","type":"quantitative","axis":null},"y2":{"field":"b"},"x":{"field":"h","type":"quantitative","axis":null}}},
{"data":{"name":"leftTree"},"mark":{"type":"rule","color":"#333333","strokeWidth":1.3},"encoding":{"y":{"field":"a","type":"quantitative","axis":null},"x":{"field":"ha","type":"quantitative","axis":null},"x2":{"field":"h"}}},
{"data":{"name":"leftTree"},"mark":{"type":"rule","color":"#333333","strokeWidth":1.3},"encoding":{"y":{"field":"b","type":"quantitative","axis":null},"x":{"field":"hb","type":"quantitative","axis":null},"x2":{"field":"h"}}}
],"resolve":{"scale":{"fill":"independent","stroke":"independent"}}},
{"bounds":"flush","spacing":0,"vconcat":[
{"width":842,"height":205,"data":{"values":[{"a":1}]},"mark":{"type":"text","text":"","opacity":0},"encoding":{}},
{"width":842,"height":697,"view":{"stroke":"black","strokeWidth":3},
"layer":[
{"data":{"values":[{"PC1":-7.5},{"PC1":-2.5},{"PC1":2.5},{"PC1":7.5}]},"mark":{"type":"rule","color":"#ededed","strokeWidth":2},"encoding":{"x":{"field":"PC1","type":"quantitative","scale":{"domain":[-8.01,8.83],"nice":false,"zero":false},"axis":{"values":[-5,0,5],"labelExpr":"''+datum.value","title":"PC1, 51.23% variation","titleFontSize":30.5,"titleFontWeight":"normal","titleColor":"black","titlePadding":8,"labelFontSize":28,"labelColor":"#4d4d4d","labelPadding":10,"tickColor":"#333333","tickWidth":3,"tickSize":11,"domain":false,"grid":true,"gridColor":"#ebebeb","gridWidth":4}}}},
{"data":{"values":[{"PC2":3},{"PC2":1},{"PC2":-1},{"PC2":-3}]},"mark":{"type":"rule","color":"#ededed","strokeWidth":2},"encoding":{"y":{"field":"PC2","type":"quantitative","scale":{"domain":[-3.3,4.53],"nice":false,"zero":false},"axis":{"values":[-2,0,2,4],"labelExpr":"''+datum.value","title":"PC2, 9.21% variation","titleFontSize":30.5,"titleFontWeight":"normal","titleColor":"black","titlePadding":14,"labelFontSize":28,"labelColor":"#4d4d4d","labelPadding":14,"tickColor":"#333333","tickWidth":3,"tickSize":11,"domain":false,"grid":true,"gridColor":"#ebebeb","gridWidth":4}}}},
{"data":{"name":"points"},"transform":[{"filter":"datum.Disease==='AD'"}],"mark":{"type":"point","filled":true,"opacity":1,"size":80},"encoding":{"x":{"field":"PC1","type":"quantitative"},"y":{"field":"PC2","type":"quantitative"},
"color":{"field":"Disease","type":"nominal","scale":{"domain":["AD","Aged_healthy"],"range":["#e41a1c","#377eb8"]},"legend":{"orient":"none","legendX":2064,"legendY":809,"title":"Disease","titleFontSize":19,"titleFontWeight":"normal","titleColor":"black","labelFontSize":17,"labelColor":"black","symbolSize":280,"labelOffset":8,"fillColor":"white","padding":6,"rowPadding":0,"titlePadding":9,"symbolOpacity":1}},
"shape":{"field":"Disease","type":"nominal","scale":{"domain":["AD","Aged_healthy"],"range":["circle","triangle-up"]}}}},
{"data":{"name":"points"},"transform":[{"filter":"datum.Disease==='Aged_healthy'"}],"mark":{"type":"point","filled":true,"opacity":1,"size":150},"encoding":{"x":{"field":"PC1","type":"quantitative"},"y":{"field":"PC2","type":"quantitative"},
"color":{"field":"Disease","type":"nominal"},
"shape":{"field":"Disease","type":"nominal"}}},
{"data":{"name":"hullRed"},"mark":{"type":"line","fill":"#e41a1c","fillOpacity":0.23,"strokeWidth":0,"strokeOpacity":0,"interpolate":"cardinal-closed"},"encoding":{"x":{"field":"PC1","type":"quantitative"},"y":{"field":"PC2","type":"quantitative"},"order":{"field":"i","type":"ordinal"}}},
{"data":{"name":"hullBlue"},"mark":{"type":"line","fill":"#2f6aa0","fillOpacity":0.22,"strokeWidth":0,"strokeOpacity":0,"interpolate":"cardinal-closed"},"encoding":{"x":{"field":"PC1","type":"quantitative"},"y":{"field":"PC2","type":"quantitative"},"order":{"field":"i","type":"ordinal"}}},
{"data":{"values":[{"PC1":0}]},"mark":{"type":"rule","color":"#222222","strokeWidth":1.8,"strokeDash":[17,6]},"encoding":{"x":{"field":"PC1","type":"quantitative"}}},
{"data":{"values":[{"PC2":0}]},"mark":{"type":"rule","color":"#222222","strokeWidth":1.8,"strokeDash":[17,6]},"encoding":{"y":{"field":"PC2","type":"quantitative"}}}
]}
]}
]}
